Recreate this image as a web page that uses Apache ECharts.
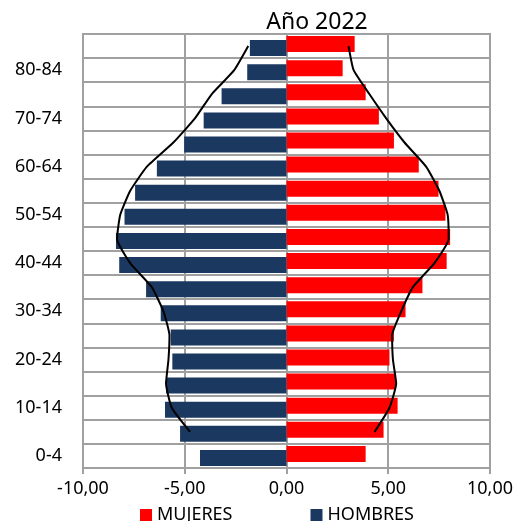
<!DOCTYPE html>
<html>
<head>
<meta charset="utf-8">
<script src="https://cdn.jsdelivr.net/npm/echarts@6/dist/echarts.min.js"></script>
<style>html,body{margin:0;padding:0;background:#fff}#c{width:516px;height:521px}</style>
</head>
<body>
<div id="c"></div>
<script>
const categories = ['0-4','5-9','10-14','15-19','20-24','25-29','30-34','35-39','40-44','45-49','50-54','55-59','60-64','65-69','70-74','75-79','80-84','85+'];
const mujeres = [3.89,4.77,5.46,5.38,5.06,5.28,5.85,6.68,7.87,8.04,7.81,7.47,6.50,5.28,4.54,3.89,2.76,3.35];
const hombres = [-4.25,-5.23,-5.97,-5.92,-5.61,-5.69,-6.18,-6.90,-8.22,-8.38,-7.96,-7.44,-6.37,-5.03,-4.07,-3.19,-1.93,-1.80];
const lineaMujeres = [null,4.33,5.06,5.39,5.23,5.19,5.64,6.21,7.27,7.97,7.92,7.51,6.86,5.80,4.90,4.08,3.30,3.05];
const lineaHombres = [null,-4.74,-5.64,-5.92,-5.80,-5.75,-6.05,-6.62,-7.68,-8.33,-8.17,-7.68,-6.86,-5.56,-4.50,-3.68,-2.57,-1.88];
const xTicks = [-10,-5,0,5,10];

const FONT = '"Noto Sans", "DejaVu Sans", sans-serif';
const chart = echarts.init(document.getElementById('c'));
chart.setOption({
  animation: false,
  textStyle: {fontFamily: FONT},
  title: {text: 'Año 2022', left: 312, top: 6, textAlign: 'center',
    textStyle: {fontFamily: FONT, fontSize: 23, fontWeight: 'normal', color: '#000'}},
  legend: {data: ['MUJERES','HOMBRES'], left: 135, top: 501, itemWidth: 12, itemHeight: 12, itemGap: 78,
    icon: 'rect', textStyle: {fontFamily: FONT, fontSize: 18, color: '#000'}},
  grid: {left: 83, right: 25, top: 34, bottom: 53, show: true, borderColor: '#a0a0a0', borderWidth: 2},
  xAxis: {type: 'value', min: xTicks[0], max: xTicks[xTicks.length-1], interval: 5,
    axisLine: {show: true, lineStyle: {color: '#a0a0a0', width: 2}},
    axisTick: {show: true, length: 6, lineStyle: {color: '#a0a0a0', width: 2}},
    splitLine: {show: true, lineStyle: {color: '#a0a0a0', width: 2}},
    axisLabel: {margin: 12, fontSize: 18, color: '#000', fontFamily: FONT,
      formatter: v => v.toFixed(2).replace('.', ',')}},
  yAxis: {type: 'category', data: categories,
    axisLine: {show: false}, axisTick: {show: false},
    splitLine: {show: true, interval: 0, lineStyle: {color: '#a0a0a0', width: 2}},
    axisLabel: {interval: 1, margin: 21, fontSize: 18, color: '#000', fontFamily: FONT}},
  series: [
    {name: 'MUJERES', type: 'bar', data: mujeres, barWidth: 16, barGap: '-75%',
      itemStyle: {color: '#ff0000'}, z: 2},
    {name: 'HOMBRES', type: 'bar', data: hombres, barWidth: 16,
      itemStyle: {color: '#1b3960'}, z: 2},
    {name: 'linea M', type: 'line', data: lineaMujeres, smooth: 0.15, symbol: 'none',
      lineStyle: {color: '#000', width: 2}, z: 5},
    {name: 'linea H', type: 'line', data: lineaHombres, smooth: 0.15, symbol: 'none',
      lineStyle: {color: '#000', width: 2}, z: 5}
  ]
});
</script>
</body>
</html>
